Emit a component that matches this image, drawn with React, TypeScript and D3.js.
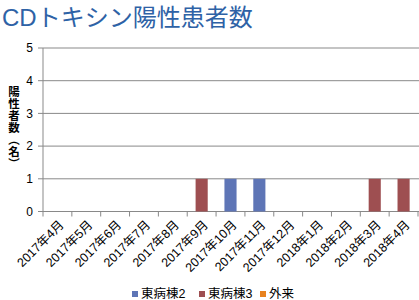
import React from "react";
import * as d3 from "d3";

const categories = ["2017年4月","2017年5月","2017年6月","2017年7月","2017年8月","2017年9月","2017年10月","2017年11月","2017年12月","2018年1月","2018年2月","2018年3月","2018年4月"];
const east2 = [0,0,0,0,0,0,1,1,0,0,0,0,0];
const east3 = [0,0,0,0,0,1,0,0,0,0,0,1,1];
const outpatient = [0,0,0,0,0,0,0,0,0,0,0,0,0];
const seriesNames = ["東病棟2","東病棟3","外来"];
const yTicks = [0,1,2,3,4,5];
const yLabel = "陽性者数（名）";

const colors = ["#5E75B6", "#9E4F51", "#E8821E"];
const W = 419, H = 300;
const left = 43, right = 418, top = 48, bottom = 211.5;
const font = "'Liberation Sans', Arial, 'Noto Sans CJK JP', sans-serif";

export default function App() {
  const x = d3.scaleBand<string>().domain(categories).range([left, right]).paddingInner(0.58).paddingOuter(0.29);
  const xs = d3.scaleBand<string>().domain(categories).range([left, right]);
  const y = d3.scaleLinear().domain([0, 5]).range([bottom, top]);
  const series = [east2, east3, outpatient];
  return (
    <svg width={W} height={H} style={{ position: "absolute", left: 0, top: 0, background: "#fff" }}>
      <text x={2} y={26} fontFamily={font} fontSize={24} fill="#2E62A6">CDトキシン陽性患者数</text>
      {yTicks.map(t => (
        <g key={t}>
          <line x1={left} x2={W} y1={y(t)} y2={y(t)} stroke="#898989" strokeWidth={1} />
          <line x1={left - 5} x2={left} y1={y(t)} y2={y(t)} stroke="#898989" />
          <text x={left - 10} y={y(t)} dy="0.36em" textAnchor="end" fontFamily={font} fontSize={12} fill="#000">{t}</text>
        </g>
      ))}
      <line x1={left} x2={left} y1={top} y2={bottom} stroke="#898989" />
      {categories.map((c, i) => (
        <line key={"t" + i} x1={(xs(c) as number) + xs.bandwidth()} x2={(xs(c) as number) + xs.bandwidth()} y1={bottom} y2={bottom + 5} stroke="#898989" />
      ))}
      <line x1={left} x2={left} y1={bottom} y2={bottom + 5} stroke="#898989" />
      {series.map((s, si) => s.map((v, i) => v > 0 ? (
        <rect key={si + "-" + i} x={x(categories[i])} width={x.bandwidth()} y={y(v)} height={y(0) - y(v)} fill={colors[si]} />
      ) : null))}
      {categories.map((c, i) => {
        const cx = (xs(c) as number) + xs.bandwidth() / 2 + 4;
        return (
          <text key={"l" + i} transform={`translate(${cx},${bottom + 11}) rotate(-45)`} textAnchor="end" dy="0.35em" fontFamily={font} fontSize={12.5} fill="#000">{c}</text>
        );
      })}
      <text x={14} y={86} fontFamily="'Noto Sans CJK JP', sans-serif" fontWeight="bold" fontSize={11.5} fill="#000"
        style={{ writingMode: "vertical-rl", textOrientation: "upright", letterSpacing: "0.5px" } as React.CSSProperties}>{yLabel}</text>
      {seriesNames.map((n, i) => {
        const lx = [132, 199, 260][i];
        return (
          <g key={"lg" + i}>
            <rect x={lx} y={291} width={6} height={6} fill={colors[i]} />
            <text x={lx + 9} y={298} fontFamily={font} fontSize={12.5} fill="#000">{n}</text>
          </g>
        );
      })}
    </svg>
  );
}
